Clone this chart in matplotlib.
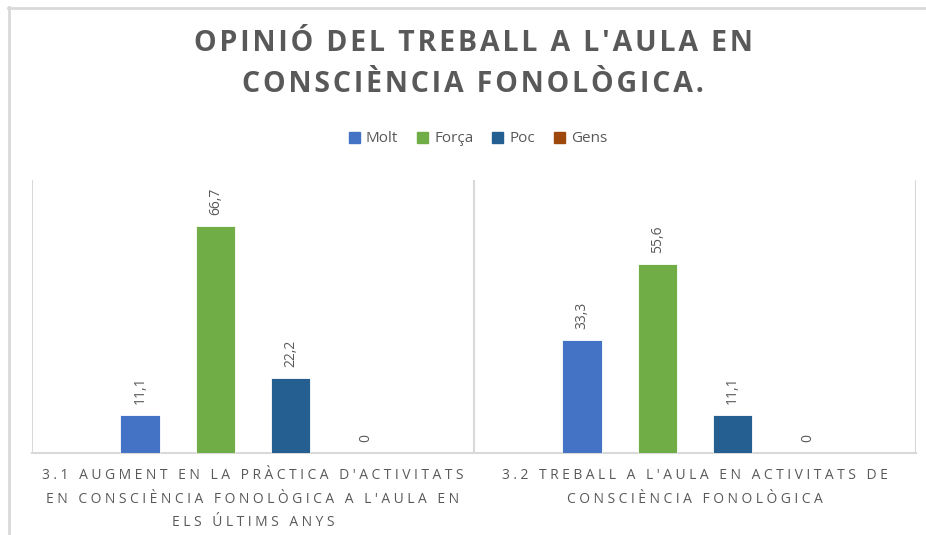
import matplotlib
matplotlib.use("Agg")
import matplotlib.pyplot as plt
from matplotlib.lines import Line2D
import numpy as np

categories = ["3.1 AUGMENT EN LA PRÀCTICA D'ACTIVITATS\nEN CONSCIÈNCIA FONOLÒGICA A L'AULA EN\nELS ÚLTIMS ANYS",
              "3.2 TREBALL A L'AULA EN ACTIVITATS DE\nCONSCIÈNCIA FONOLÒGICA"]
series = ["Molt", "Força", "Poc", "Gens"]
values = {
    "Molt": [11.1, 33.3],
    "Força": [66.7, 55.6],
    "Poc": [22.2, 11.1],
    "Gens": [0, 0],
}
colors = {"Molt": "#4472C4", "Força": "#70AD47", "Poc": "#255E91", "Gens": "#9E480E"}
title = "OPINIÓ DEL TREBALL A L'AULA EN\nCONSCIÈNCIA FONOLÒGICA."


def spaced(s, sp):
    # emulate letter spacing with narrow space characters
    return "\n".join(sp.join(list(line)) for line in s.split("\n"))


FAM = ["Open Sans", "DejaVu Sans"]
W, H = 926, 535
fig = plt.figure(figsize=(W/100, H/100), dpi=100)
fig.patch.set_facecolor("white")

ax = fig.add_axes([32/W, 1-453/H, 884/W, 273/H])
x = np.arange(len(categories))
offsets = [-0.255, -0.085, 0.085, 0.255]
width = 0.09
grey = "#595959"
for s, off in zip(series, offsets):
    vals = values[s]
    ax.bar(x + off, vals, width=width, color=colors[s], edgecolor="white", linewidth=0.6, label=s, zorder=3)
    for xi, v in zip(x, vals):
        lbl = ("%.1f" % v).replace(".", ",") if v != 0 else "0"
        ax.annotate(lbl, (xi + off, v), xytext=(0, 11), textcoords="offset pixels",
                    rotation=90, ha="center", va="bottom", fontsize=10, color=grey, family=FAM)

ax.set_xlim(-0.5, 1.5)
ax.set_ylim(0, 80.3)
ax.set_yticks([])
for sp in ["top", "right", "left"]:
    ax.spines[sp].set_visible(False)
ax.spines["bottom"].set_color("#d9d9d9")
ax.spines["bottom"].set_linewidth(1.5)
for b in [-0.5, 0.5, 1.5]:
    ax.axvline(b, color="#d9d9d9", lw=1.5, zorder=1)
ax.set_xticks(x)
ax.set_xticklabels([spaced(c, "\u2005") for c in categories], fontsize=10, color=grey,
                   family=FAM, linespacing=1.75)
ax.tick_params(axis="x", length=0, pad=11)

fig.text(473/W, 1-64/H, spaced(title, "\u200a"), ha="center", va="center", fontsize=20.5, fontweight="bold",
         color=grey, family=FAM, linespacing=1.55)

handles = [plt.Rectangle((0, 0), 1, 1, color=colors[s]) for s in series]
fig.legend(handles, series, loc="center", bbox_to_anchor=(478/W, 1-139/H), ncol=4, frameon=False,
           handlelength=0.7, handleheight=0.7, handletextpad=0.4, columnspacing=1.25,
           prop={"family": FAM, "size": 11}, labelcolor=grey)

fig.add_artist(Line2D([8.5/W, 8.5/W], [0, 1-7/H], color="#d9d9d9", lw=2, transform=fig.transFigure))
fig.add_artist(Line2D([8/W, 1], [1-7.5/H, 1-7.5/H], color="#d9d9d9", lw=2, transform=fig.transFigure))

fig.savefig("out.png", dpi=100, facecolor="white")
